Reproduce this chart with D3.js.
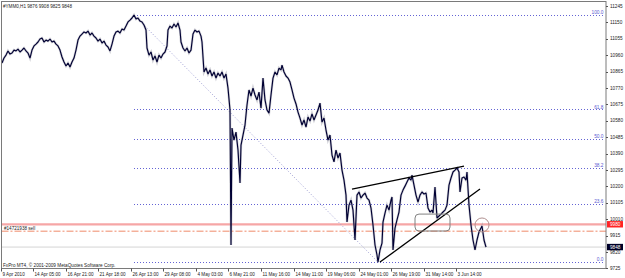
<!DOCTYPE html>
<html>
<head>
<meta charset="utf-8">
<script src="https://cdn.jsdelivr.net/npm/d3@7"></script>
<style>
  body { margin: 0; background: #fff; }
  svg { display: block; }
  text { font-family: "Liberation Sans", Arial, sans-serif; }
</style>
</head>
<body>
<svg id="chart" width="625" height="278"></svg>
<script>
const symbol = '#YMM0,H1';
const lastOhlc = [9876, 9908, 9825, 9848];
const copyright = 'FxPro MT4, \u00a9 2001-2009 MetaQuotes Software Corp.';

const timeLabels = ['9 Apr 2010', '14 Apr 05:00', '16 Apr 21:00', '21 Apr 18:00', '26 Apr 13:00',
  '29 Apr 08:00', '4 May 03:00', '6 May 21:00', '11 May 16:00', '14 May 11:00', '19 May 06:00',
  '24 May 01:00', '26 May 19:00', '31 May 14:00', '3 Jun 14:00'];
const timeLabelBars = [1, 33, 66, 98, 131, 163, 196, 228, 261, 294, 326, 359, 391, 424, 456];

const priceTicks = [11245, 11150, 11055, 10960, 10865, 10770, 10675, 10580, 10485, 10390,
  10295, 10200, 10105, 10010, 9915, 9820, 9725];

// [bar, price]
const quotes = [
  [2,10914],[4,10943],[6,10960],[8,10984],[10,10966],[12,10972],[14,10989],[16,10984],[18,10995],[20,10978],
  [22,10989],[24,11001],[26,10984],[28,10972],[30,10943],[32,10989],[34,11013],[36,11024],[38,11036],[40,11053],
  [42,11059],[44,11036],[46,11047],[48,11041],[50,11053],[52,11036],[54,11041],[56,11024],[58,11013],[60,10989],
  [62,10949],[64,10920],[66,10897],[68,10914],[70,10891],[72,10920],[74,10943],[76,10989],[78,11047],[80,11070],
  [82,11082],[84,11094],[86,11088],[88,11099],[90,11076],[92,11088],[94,11070],[96,11059],[98,11041],[100,11053],
  [102,11030],[104,11041],[106,11018],[108,11007],[110,10984],[112,11024],[114,11070],[116,11094],[118,11099],[120,11088],
  [122,11111],[124,11105],[126,11128],[128,11152],[130,11163],[132,11175],[134,11192],[136,11169],[138,11175],[140,11157],
  [142,11152],[144,11134],[146,11105],[147,11001],[149,10960],[151,10978],[153,10931],[155,10955],[157,10920],[159,10960],
  [161,10943],[163,10966],[165,10978],[167,11013],[168,11105],[170,11128],[172,11117],[174,11140],[176,11123],[178,11146],
  [180,11105],[181,11036],[183,11001],[185,10984],[187,11001],[189,10972],[191,10989],[193,11082],[195,11105],[197,11094],
  [199,11099],[201,11070],[202,11036],[204,10862],[206,10885],[208,10850],[210,10874],[212,10839],[214,10862],[216,10827],
  [218,10856],[220,10839],[222,10862],[224,10827],[226,10850],[228,10769],[230,10642],[231,9860],[232,10537],[234,10468],
  [236,10514],[238,10410],[240,10219],[241,10439],[243,10497],[245,10555],[247,10671],[249,10758],[251,10723],[253,10769],
  [255,10729],[257,10700],[259,10746],[261,10653],[263,10827],[265,10700],[267,10642],[269,10624],[271,10729],[273,10827],
  [275,10862],[277,10845],[279,10885],[281,10874],[282,10902],[284,10862],[286,10839],[288,10827],[290,10804],[292,10758],
  [294,10711],[296,10677],[298,10630],[300,10595],[302,10555],[304,10584],[306,10543],[308,10601],[310,10578],[312,10619],
  [314,10584],[316,10613],[318,10642],[320,10682],[322,10572],[324,10595],[326,10526],[328,10468],[330,10497],[332,10381],
  [334,10341],[336,10410],[338,10364],[340,10393],[342,10294],[344,10236],[346,10149],[347,9993],[349,10091],[351,10120],
  [353,10062],[355,9889],[357,10149],[359,10167],[361,10132],[363,10149],[365,10161],[367,10132],[369,10120],[371,10074],
  [373,9976],[375,9860],[377,9802],[378,9761],[380,9831],[382,9871],[383,9993],[385,10045],[387,10091],[389,10062],
  [391,10120],[392,10138],[393,9831],[395,9958],[397,10005],[399,10051],[401,10149],[403,10178],[405,10201],[407,10225],
  [409,10248],[411,10236],[412,10265],[414,10207],[416,10149],[418,10109],[420,10149],[422,10167],[424,10155],[426,10161],
  [428,10074],[430,10051],[432,10062],[433,10045],[435,10196],[437,10016],[439,10028],[441,10039],[443,10051],[445,10062],
  [447,10091],[449,10207],[451,10248],[453,10283],[455,10294],[457,10306],[459,10283],[460,10167],[462,10248],[464,10254],
  [466,10236],[467,10283],[469,10091],[471,9976],[473,9889],[475,9831],[477,9889],[479,9935],[481,9958],[482,9970],
  [484,9889],[486,9848]
];

const fibLevels = [100, 61.8, 50, 38.2, 23.6, 0];
const fibHigh = [134, 11192];
const fibLow = [378, 9761];
const wedgeUpper = [[352, 10184], [464, 10317]];
const wedgeLower = [[380, 9761], [480, 10184]];
const zoneBox = [[415, 10039], [450, 9941]];
const circleMark = [482, 9976];
const alertPrice = 9980;
const orderLine = { label: '#14721938 sell', price: 9940 };
const bidPrice = 9848;

const svg = d3.select('#chart');
const plot = { left: 1.5, top: 1.5, right: 606, bottom: 268.5 };

const x = d3.scaleLinear().domain([0, 605]).range([0, 605]);
const y = d3.scaleLinear().domain([9725, 11245]).range([268.3, 5.9]);

svg.append('rect').attr('width', 625).attr('height', 278).attr('fill', '#fff');

svg.append('clipPath').attr('id', 'clip')
  .append('rect')
  .attr('x', plot.left).attr('y', plot.top)
  .attr('width', plot.right - plot.left).attr('height', plot.bottom - plot.top);

const g = svg.append('g').attr('clip-path', 'url(#clip)');

// horizontal price lines
g.append('line')
  .attr('x1', plot.left).attr('x2', plot.right)
  .attr('y1', y(bidPrice)).attr('y2', y(bidPrice))
  .attr('stroke', '#d4d4d4').attr('stroke-width', 1);

g.append('line')
  .attr('x1', plot.left).attr('x2', plot.right)
  .attr('y1', y(alertPrice)).attr('y2', y(alertPrice))
  .attr('stroke', '#f6a6a6').attr('stroke-width', 2.2);

g.append('line')
  .attr('x1', plot.left).attr('x2', plot.right)
  .attr('y1', y(orderLine.price)).attr('y2', y(orderLine.price))
  .attr('stroke', '#ef8a6a').attr('stroke-width', 1)
  .attr('stroke-dasharray', '7,2,2,2');

// fibonacci
const fibPrice = lv => fibLow[1] + (fibHigh[1] - fibLow[1]) * lv / 100;
g.append('line')
  .attr('x1', x(fibHigh[0])).attr('y1', y(fibHigh[1]))
  .attr('x2', x(fibLow[0])).attr('y2', y(fibLow[1]))
  .attr('stroke', '#9a9ad0').attr('stroke-width', 1)
  .attr('stroke-dasharray', '1,2');

g.selectAll('.fib')
  .data(fibLevels)
  .enter()
  .append('line')
  .attr('class', 'fib')
  .attr('x1', x(fibHigh[0])).attr('x2', plot.right - 2)
  .attr('y1', d => Math.round(y(fibPrice(d))) + 0.5)
  .attr('y2', d => Math.round(y(fibPrice(d))) + 0.5)
  .attr('stroke', '#6464d4').attr('stroke-width', 1)
  .attr('stroke-dasharray', '1,2');

g.selectAll('.fib-label')
  .data(fibLevels)
  .enter()
  .append('text')
  .attr('class', 'fib-label')
  .attr('x', plot.right - 2.5)
  .attr('y', d => y(fibPrice(d)) - 0.8)
  .attr('text-anchor', 'end')
  .attr('fill', '#5a5ad2')
  .attr('font-size', 4.8)
  .text(d => d.toFixed(1));

// price line
const line = d3.line().x(d => x(d[0])).y(d => y(d[1]));
g.append('path')
  .datum(quotes)
  .attr('d', line)
  .attr('fill', 'none')
  .attr('stroke', '#9a9aa6')
  .attr('stroke-width', 2.4)
  .attr('stroke-opacity', 0.45);
g.append('path')
  .datum(quotes)
  .attr('d', line)
  .attr('fill', 'none')
  .attr('stroke', '#000033')
  .attr('stroke-width', 1.15)
  .attr('stroke-linejoin', 'bevel');

// wedge lines
[wedgeUpper, wedgeLower].forEach(seg => {
  g.append('line')
    .attr('x1', x(seg[0][0])).attr('y1', y(seg[0][1]))
    .attr('x2', x(seg[1][0])).attr('y2', y(seg[1][1]))
    .attr('stroke', '#000').attr('stroke-width', 1.3);
});

g.append('rect')
  .attr('x', x(zoneBox[0][0])).attr('y', y(zoneBox[0][1]))
  .attr('width', x(zoneBox[1][0]) - x(zoneBox[0][0]))
  .attr('height', y(zoneBox[1][1]) - y(zoneBox[0][1]))
  .attr('rx', 4)
  .attr('fill', 'none').attr('stroke', '#808080').attr('stroke-width', 1);

g.append('circle')
  .attr('cx', x(circleMark[0])).attr('cy', y(circleMark[1]))
  .attr('r', 7)
  .attr('fill', 'none').attr('stroke', '#b09090').attr('stroke-width', 1);

g.append('text')
  .attr('x', 4).attr('y', y(orderLine.price) - 1.2)
  .attr('font-size', 4.6).attr('fill', '#222')
  .text(orderLine.label);

// texts
svg.append('text')
  .attr('x', 3).attr('y', 7.5)
  .attr('font-size', 4.6).attr('fill', '#222')
  .text(symbol + '  ' + lastOhlc.join(' '));

svg.append('text')
  .attr('x', 3).attr('y', 266.5)
  .attr('font-size', 4.7).attr('fill', '#222')
  .text(copyright);

// frame
svg.append('rect')
  .attr('x', plot.left).attr('y', plot.top)
  .attr('width', plot.right - plot.left).attr('height', plot.bottom - plot.top)
  .attr('fill', 'none').attr('stroke', '#7a7a7a').attr('stroke-width', 1);

// price axis
const py = svg.append('g');
py.selectAll('line')
  .data(priceTicks)
  .enter()
  .append('line')
  .attr('x1', plot.right).attr('x2', plot.right + 2)
  .attr('y1', d => Math.round(y(d)) + 0.5).attr('y2', d => Math.round(y(d)) + 0.5)
  .attr('stroke', '#555');
py.selectAll('text')
  .data(priceTicks)
  .enter()
  .append('text')
  .attr('x', plot.right + 4)
  .attr('y', d => y(d) + 1.7)
  .attr('font-size', 4.7).attr('fill', '#222')
  .text(d => d);

[[alertPrice, '#ff2424'], [bidPrice, '#000026']].forEach(([p, c]) => {
  svg.append('rect')
    .attr('x', plot.right + 1).attr('y', y(p) - 3.2)
    .attr('width', 16).attr('height', 6.4)
    .attr('fill', c);
  svg.append('text')
    .attr('x', plot.right + 4).attr('y', y(p) + 1.7)
    .attr('font-size', 4.7).attr('fill', '#fff')
    .text(p);
});

// time axis
const tx = svg.append('g');
tx.selectAll('line')
  .data(timeLabelBars)
  .enter()
  .append('line')
  .attr('x1', d => Math.round(x(d)) + 0.5).attr('x2', d => Math.round(x(d)) + 0.5)
  .attr('y1', plot.bottom).attr('y2', plot.bottom + 3)
  .attr('stroke', '#555');
tx.selectAll('text')
  .data(timeLabels)
  .enter()
  .append('text')
  .attr('x', (d, i) => x(timeLabelBars[i]) + 1.5)
  .attr('y', 275.5)
  .attr('font-size', 4.6).attr('fill', '#222')
  .text(d => d);
</script>
</body>
</html>
